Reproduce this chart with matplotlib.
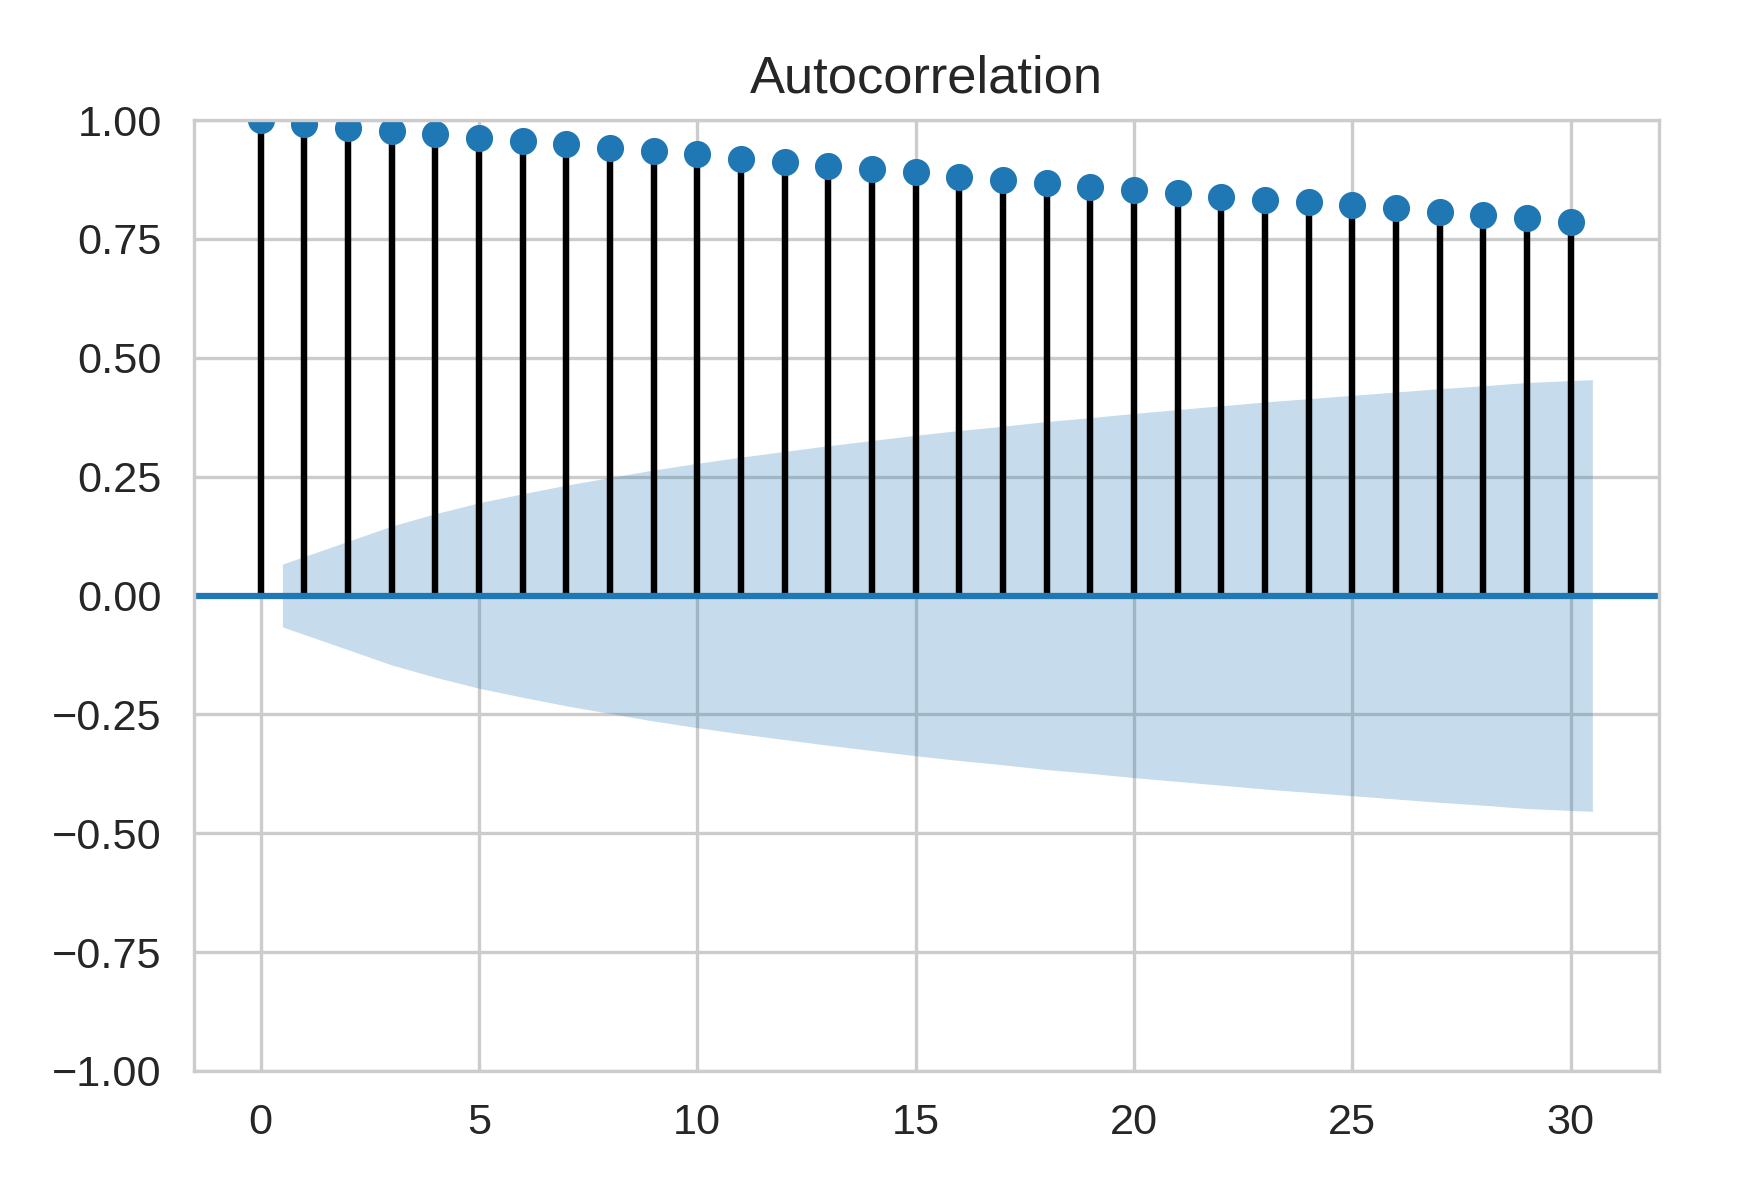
import matplotlib
matplotlib.use("Agg")
import matplotlib.pyplot as plt
import seaborn as sns

# autocorrelation per lag
lags = list(range(31))
acf = [1.000, 0.991, 0.984, 0.977, 0.970, 0.963, 0.956, 0.949, 0.942, 0.935,
       0.928, 0.918, 0.911, 0.904, 0.897, 0.890, 0.881, 0.874, 0.867, 0.860,
       0.853, 0.846, 0.839, 0.832, 0.828, 0.822, 0.815, 0.807, 0.801, 0.793,
       0.786]

# half-width of the confidence band for lags 1..30
band_lags = [0.5] + list(range(2, 30)) + [30.5]
band = [0.066, 0.114, 0.146, 0.172, 0.195, 0.214, 0.232, 0.248, 0.264, 0.278,
        0.291, 0.303, 0.315, 0.326, 0.337, 0.347, 0.356, 0.366, 0.374, 0.383,
        0.391, 0.399, 0.407, 0.414, 0.421, 0.428, 0.435, 0.441, 0.448, 0.454]

sns.set_style("whitegrid")
plt.rcParams['font.family'] = ['Liberation Sans', 'DejaVu Sans']
plt.rcParams['xtick.labelsize'] = 10.4
plt.rcParams['ytick.labelsize'] = 10.4
plt.rcParams['axes.titlesize'] = 12.6

fig = plt.figure(figsize=(5.8, 1204 / 300))
ax = fig.add_axes([194 / 1740, 1 - 1071 / 1204, 1465 / 1740, 951 / 1204])

ax.vlines(lags, 0, acf, colors='k', linewidth=1.55)
ax.axhline(0, color='C0', linewidth=1.5)
ax.plot(lags, acf, marker='o', markersize=5.5, linestyle='None', color='C0')
ax.fill_between(band_lags, [-b for b in band], band, color='C0', alpha=0.25,
                linewidth=0)

ax.set_ylim(-1, 1)
ax.set_title("Autocorrelation", pad=6.5)
ax.tick_params(axis='both', pad=4.2)

fig.savefig("out.png", dpi=300)
